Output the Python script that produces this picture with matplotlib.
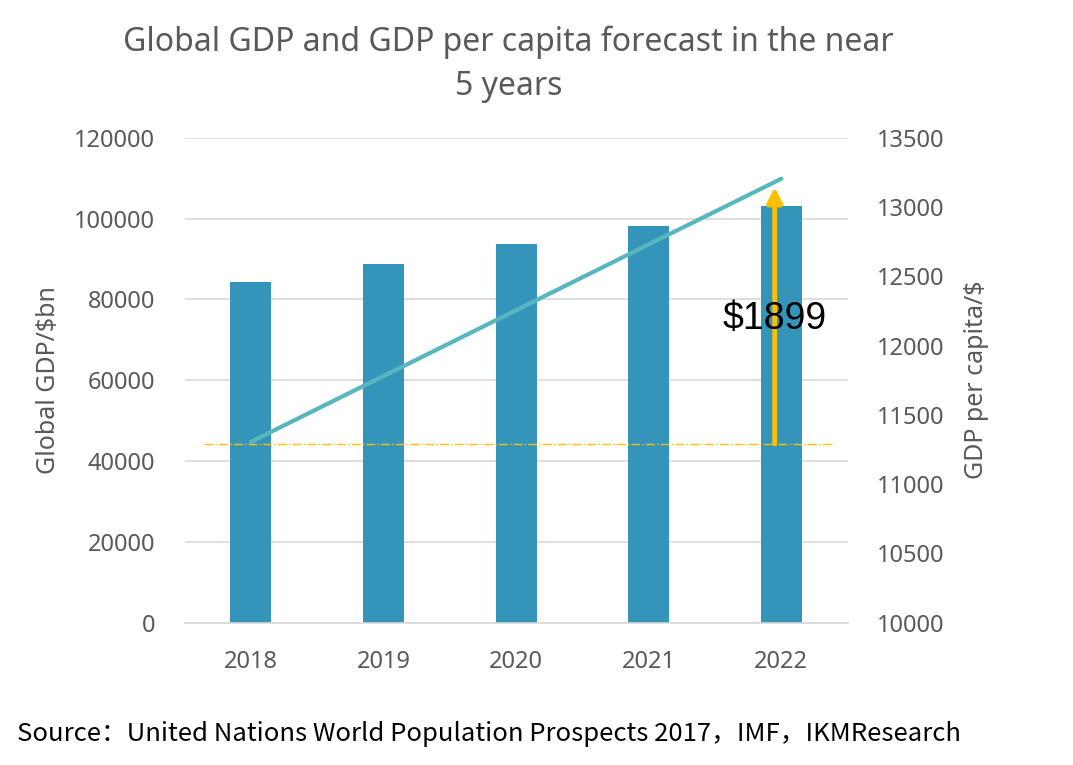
import matplotlib
matplotlib.use('Agg')
import matplotlib.pyplot as plt

# data
years = ['2018', '2019', '2020', '2021', '2022']
gdp_bn = [84400, 88800, 93700, 98200, 103200]
gdp_per_capita = [11305, 11780, 12255, 12730, 13204]
gain_label = '$1899'

grey = '#595959'
plt.rcParams['font.family'] = ['Noto Sans', 'Noto Sans CJK SC', 'DejaVu Sans']


def main():
    fig = plt.figure(figsize=(10.73, 7.65), dpi=100)
    ax1 = fig.add_axes([0.172, 0.186, 0.618, 0.634])
    ax2 = ax1.twinx()

    x = list(range(len(years)))
    ax1.bar(x, gdp_bn, width=0.31, color='#3494BA', zorder=2)
    ax1.set_ylim(0, 120000)
    ax1.set_yticks(range(0, 120001, 20000))
    ax1.set_xlim(-0.5, 4.5)
    ax1.set_xticks(x)
    ax1.set_xticklabels(years)
    ax1.grid(axis='y', color='#d9d9d9', linewidth=1.2, zorder=0)
    ax1.set_axisbelow(True)

    ax2.plot(x, gdp_per_capita, color='#58B6C0', linewidth=3, solid_capstyle='round', zorder=3)
    ax2.set_ylim(10000, 13500)
    ax2.set_yticks(range(10000, 13501, 500))

    # baseline at 2018 level and arrow showing the increase
    ax2.axhline(gdp_per_capita[0] - 15, xmin=0.03, xmax=0.98, color='#FFC000',
                linewidth=1, linestyle='-.', zorder=4)
    ax2.annotate('', xy=(3.95, gdp_per_capita[-1] - 60), xytext=(3.95, gdp_per_capita[0] - 15),
                 arrowprops=dict(arrowstyle='-|>,head_width=0.45,head_length=0.9',
                                 color='#FFC000', linewidth=3.5, shrinkA=0, shrinkB=0),
                 zorder=5)
    ax2.text(3.95, 12190, gain_label, fontsize=27, ha='center', va='center',
             family=['Liberation Sans', 'DejaVu Sans'], color='black', zorder=6)

    for ax in (ax1, ax2):
        for s in ax.spines.values():
            s.set_visible(False)
        ax.tick_params(length=0, labelsize=17, labelcolor=grey)
    ax1.tick_params(axis='y', pad=21)
    ax2.tick_params(axis='y', pad=21)
    ax1.tick_params(axis='x', pad=20)
    ax1.spines['bottom'].set_visible(True)
    ax1.spines['bottom'].set_color('#d9d9d9')
    ax1.spines['bottom'].set_linewidth(1.2)

    ax1.set_ylabel('Global GDP/$bn', fontsize=18, color=grey, labelpad=10)
    ax2.set_ylabel('GDP per capita/$', fontsize=18, color=grey, labelpad=14)

    fig.text(0.474, 0.916, 'Global GDP and GDP per capita forecast in the near\n5 years',
             fontsize=23, color=grey, ha='center', va='center', linespacing=1.42)
    fig.text(0.016, 0.041, 'Source：United Nations World Population Prospects 2017，IMF，IKMResearch',
             fontsize=18.5, color='black', ha='left', va='center',
             family=['Noto Sans CJK SC', 'DejaVu Sans'])

    fig.savefig('out.png', dpi=100)


if __name__ == '__main__':
    main()
